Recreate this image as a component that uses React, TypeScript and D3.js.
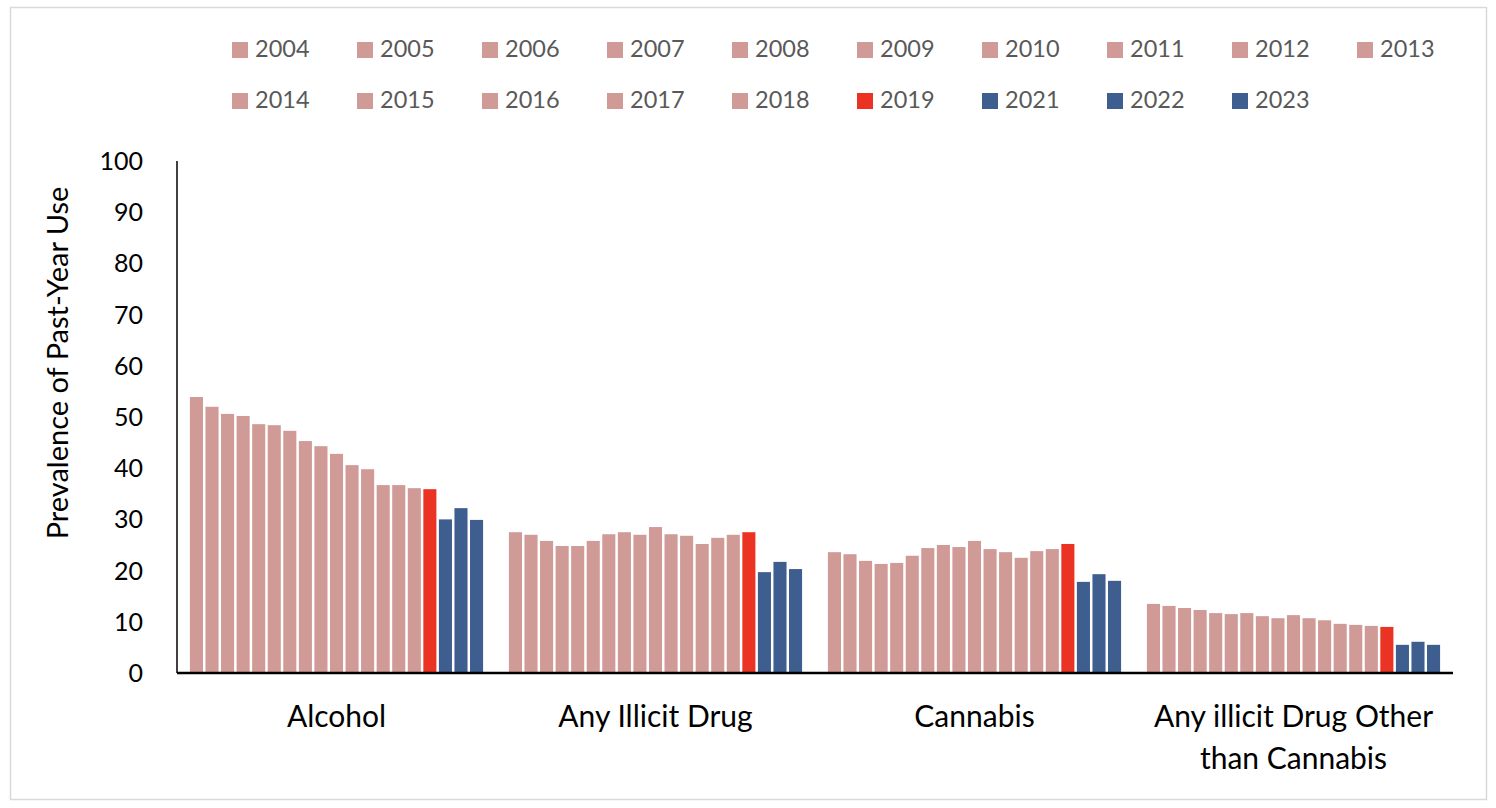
import React from "react";
import * as d3 from "d3";

const categories = ["Alcohol", "Any Illicit Drug", "Cannabis", "Any illicit Drug Other than Cannabis"];
const years = ["2004", "2005", "2006", "2007", "2008", "2009", "2010", "2011", "2012", "2013",
  "2014", "2015", "2016", "2017", "2018", "2019", "2021", "2022", "2023"];

const alcohol = [53.9, 52.0, 50.6, 50.2, 48.6, 48.4, 47.3, 45.3, 44.3, 42.8, 40.6, 39.8, 36.7, 36.7, 36.1, 35.9, 30.0, 32.2, 29.9];
const anyIllicit = [27.5, 27.0, 25.8, 24.8, 24.8, 25.8, 27.1, 27.5, 27.0, 28.5, 27.1, 26.8, 25.2, 26.4, 27.0, 27.5, 19.7, 21.7, 20.3];
const cannabis = [23.6, 23.2, 21.9, 21.3, 21.5, 22.9, 24.4, 25.0, 24.6, 25.8, 24.2, 23.6, 22.5, 23.8, 24.2, 25.2, 17.8, 19.3, 18.0];
const otherThanCannabis = [13.5, 13.1, 12.7, 12.3, 11.7, 11.5, 11.7, 11.1, 10.7, 11.3, 10.7, 10.3, 9.6, 9.4, 9.2, 9.0, 5.5, 6.1, 5.5];

const seriesByCategory = [alcohol, anyIllicit, cannabis, otherThanCannabis];
const yTicks = [0, 10, 20, 30, 40, 50, 60, 70, 80, 90, 100];

const PINK = "#D09A96";
const RED = "#EB3323";
const BLUE = "#3E5E8F";
const colorFor = (yr: string) => (yr === "2019" ? RED : +yr >= 2021 ? BLUE : PINK);

const FONT = "Lato, 'Open Sans', sans-serif";

export default function App() {
  const width = 1496, height = 808;
  const left = 177, right = 1453, top = 161, bottom = 673;

  const x0 = d3.scaleBand().domain(categories).range([left, right]).padding(0);
  const x1 = d3.scaleBand().domain(years).range([0, x0.bandwidth()]).paddingInner(0.16).paddingOuter(0.83);
  const y = d3.scaleLinear().domain([0, 100]).range([bottom, top]);

  const legendX = d3.scalePoint().domain(d3.range(10).map(String)).range([232, 1357]);

  return (
    <svg width={width} height={height} style={{ position: "absolute", left: 0, top: 0 }} fontFamily={FONT}>
      <rect x={0} y={0} width={width} height={height} fill="#fff" />
      <rect x={10.5} y={7.5} width={1476} height={792} fill="none" stroke="#d9d9d9" strokeWidth={1.5} />

      {/* legend */}
      {years.map((yr, i) => {
        const lx = legendX(String(i % 10))!;
        const ly = i < 10 ? 42 : 93;
        return (
          <g key={yr}>
            <rect x={lx} y={ly} width={16} height={16} fill={colorFor(yr)} />
            <text x={lx + 23} y={ly + 15} fontSize={23.5} fill="#595959">{yr}</text>
          </g>
        );
      })}

      {/* bars */}
      {categories.map((c, ci) => (
        <g key={c} transform={`translate(${x0(c)},0)`}>
          {seriesByCategory[ci].map((v, i) => (
            <rect key={years[i]} x={x1(years[i])} y={y(v)} width={x1.bandwidth()} height={y(0) - y(v)} fill={colorFor(years[i])} />
          ))}
        </g>
      ))}

      {/* axes */}
      <line x1={left} x2={left} y1={top} y2={bottom} stroke="#000" strokeWidth={1.5} />
      <line x1={left} x2={right} y1={bottom} y2={bottom} stroke="#000" strokeWidth={2.5} />
      {yTicks.map((t) => (
        <text key={t} x={143} y={y(t) + 9} fontSize={25} textAnchor="end" fill="#000">{t}</text>
      ))}
      <text transform={`translate(68,${363}) rotate(-90)`} fontSize={29} textAnchor="middle" fill="#000">
        Prevalence of Past-Year Use
      </text>

      {/* category labels */}
      {categories.map((c) => {
        const cx = x0(c)! + x0.bandwidth() / 2;
        const lines = c === "Any illicit Drug Other than Cannabis" ? ["Any illicit Drug Other", "than Cannabis"] : [c];
        return (
          <text key={c} x={cx} y={727} fontSize={30} textAnchor="middle" fill="#000">
            {lines.map((l, li) => (
              <tspan key={li} x={cx} dy={li === 0 ? 0 : 42}>{l}</tspan>
            ))}
          </text>
        );
      })}
    </svg>
  );
}
